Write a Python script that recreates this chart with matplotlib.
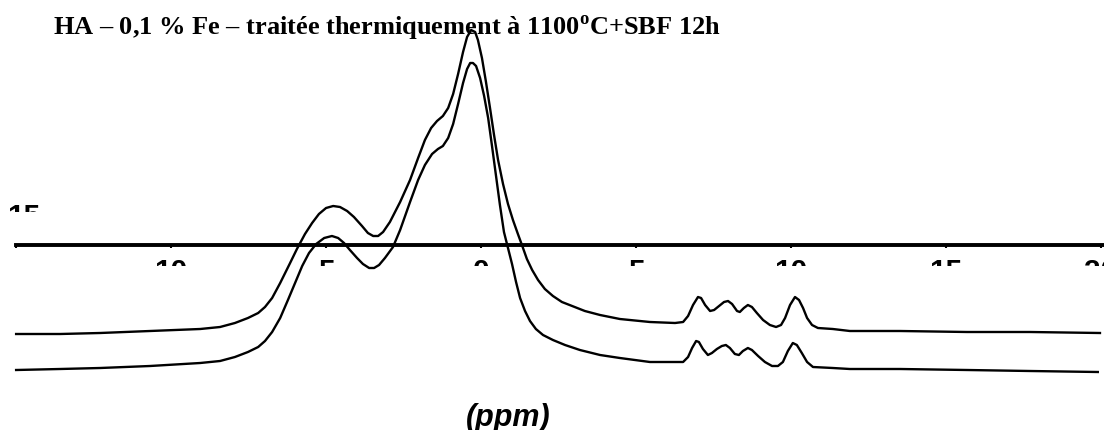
import matplotlib
matplotlib.use("Agg")
import matplotlib.pyplot as plt
from matplotlib.transforms import Bbox, TransformedBbox

# upper spectrum: chemical shift (ppm) and intensity (a.u.)
upper_ppm = [-15.00, -13.58, -12.29, -10.68, -9.06, -8.42, -7.94, -7.52, -7.19, -6.97,
             -6.74, -6.48, -6.16, -5.94, -5.68, -5.45, -5.23, -5.00, -4.77, -4.55,
             -4.32, -4.10, -3.84, -3.65, -3.48, -3.32, -3.16, -2.94, -2.61, -2.29,
             -2.03, -1.81, -1.61, -1.42, -1.23, -1.06, -0.90, -0.74, -0.58, -0.45,
             -0.32, -0.19, -0.10, 0.03, 0.16, 0.29, 0.42, 0.55, 0.71, 0.87,
             1.03, 1.19, 1.32, 1.48, 1.65, 1.84, 2.06, 2.32, 2.61, 2.94,
             3.35, 3.84, 4.48, 5.45, 6.26, 6.52, 6.68, 6.84, 7.00, 7.10,
             7.23, 7.39, 7.52, 7.68, 7.84, 7.97, 8.10, 8.26, 8.35, 8.48,
             8.61, 8.74, 8.90, 9.10, 9.32, 9.52, 9.68, 9.81, 9.97, 10.13,
             10.26, 10.39, 10.52, 10.68, 10.87, 11.35, 11.90, 13.52, 15.68, 17.71,
             19.97]
upper_int = [96, 96, 97, 99, 101, 103, 107, 112, 117, 123,
             132, 147, 167, 181, 196, 207, 216, 222, 224, 223,
             219, 213, 204, 197, 194, 194, 198, 208, 228, 250,
             272, 290, 302, 309, 314, 322, 336, 356, 378, 393,
             400, 398, 390, 372, 348, 322, 295, 270, 246, 226,
             210, 196, 185, 171, 160, 150, 141, 134, 128, 124,
             119, 115, 111, 108, 107, 108, 114, 125, 133, 132,
             125, 119, 120, 124, 128, 129, 126, 119, 118, 122,
             125, 123, 117, 110, 105, 103, 105, 112, 125, 133,
             130, 122, 112, 105, 102, 101, 99, 99, 98, 98,
             97]

# lower spectrum
lower_ppm = [-15.00, -13.58, -12.29, -10.68, -9.06, -8.42, -7.94, -7.52, -7.19, -6.97,
             -6.74, -6.48, -6.23, -6.00, -5.77, -5.55, -5.32, -5.06, -4.81, -4.61,
             -4.42, -4.23, -4.00, -3.81, -3.61, -3.45, -3.29, -3.10, -2.84, -2.61,
             -2.29, -2.03, -1.81, -1.58, -1.39, -1.23, -1.06, -0.90, -0.74, -0.58,
             -0.45, -0.35, -0.26, -0.16, -0.03, 0.10, 0.23, 0.35, 0.48, 0.61,
             0.74, 0.87, 1.00, 1.13, 1.26, 1.42, 1.58, 1.77, 2.00, 2.32,
             2.71, 3.19, 3.84, 4.48, 5.45, 6.52, 6.68, 6.81, 6.94, 7.03,
             7.16, 7.32, 7.45, 7.61, 7.77, 7.90, 8.03, 8.19, 8.32, 8.45,
             8.61, 8.74, 8.94, 9.16, 9.39, 9.58, 9.74, 9.90, 10.06, 10.19,
             10.35, 10.52, 10.71, 11.35, 11.90, 13.52, 15.68, 17.71, 19.90]
lower_int = [60, 61, 62, 64, 67, 69, 73, 78, 83, 89,
             98, 112, 130, 147, 164, 177, 186, 192, 194, 192,
             187, 180, 172, 166, 162, 162, 165, 172, 183, 200,
             228, 250, 265, 276, 281, 284, 292, 306, 326, 347,
             361, 367, 367, 364, 352, 334, 312, 285, 255, 225,
             198, 182, 166, 148, 132, 119, 109, 101, 95, 90,
             85, 80, 75, 72, 68, 68, 73, 82, 89, 88,
             81, 75, 77, 81, 84, 85, 82, 76, 75, 79,
             82, 80, 74, 68, 64, 64, 68, 79, 87, 85,
             77, 68, 63, 62, 61, 61, 60, 59, 58]

tick_pos = [-15, -10, -5, 0, 5, 10, 15, 20]
tick_labels = ["", "10", "5", "0", "5", "10", "15", "20"]

title = "HA \u2013 0,1 % Fe \u2013 traitée thermiquement à 1100$^{\\mathrm{o}}$C+SBF 12h"

plt.rcParams["mathtext.fontset"] = "custom"
plt.rcParams["mathtext.rm"] = "Liberation Serif:bold"

fig = plt.figure(figsize=(11.04, 4.30), dpi=100)
ax = fig.add_axes([0, 0, 1, 1])
ax.set_xlim(-15.52, 20.1)
ax.set_ylim(0, 430)

ax.plot(upper_ppm, upper_int, color="black", lw=1.7, solid_joinstyle="round")
ax.plot(lower_ppm, lower_int, color="black", lw=1.7, solid_joinstyle="round")

for s in ["left", "right", "top"]:
    ax.spines[s].set_visible(False)
ax.spines["bottom"].set_position(("data", 185))
ax.spines["bottom"].set_bounds(-15, 20.1)
ax.spines["bottom"].set_linewidth(2.8)
ax.set_yticks([])
ax.set_xticks(tick_pos, tick_labels)
ax.tick_params(axis="x", direction="out", length=2.5, width=1.5, pad=7)

# tick labels are cut off just below their top
clip = TransformedBbox(Bbox.from_extents(0, 1 - 266 / 430, 1, 1), fig.transFigure)
for lbl in ax.get_xticklabels():
    lbl.set_fontfamily("Liberation Sans")
    lbl.set_fontweight("bold")
    lbl.set_fontsize(21.5)
    lbl.set_clip_on(True)
    lbl.set_clip_box(clip)

t15 = fig.text(24 / 1104, 1 - 203 / 430, "15", ha="center", va="top",
               family="Liberation Sans", weight="bold", fontsize=21.5)
t15.set_clip_on(True)
t15.set_clip_box(TransformedBbox(Bbox.from_extents(0, 1 - 212 / 430, 1, 1), fig.transFigure))

fig.text(53 / 1104, 1 - 35 / 430, title, ha="left", va="baseline",
         family="Liberation Serif", weight="bold", fontsize=19)

fig.text(508 / 1104, 1 - 403 / 430, "(ppm)", ha="center", va="top",
         family="Liberation Sans", weight="bold", style="italic", fontsize=22)

fig.savefig("out.png", dpi=100)
